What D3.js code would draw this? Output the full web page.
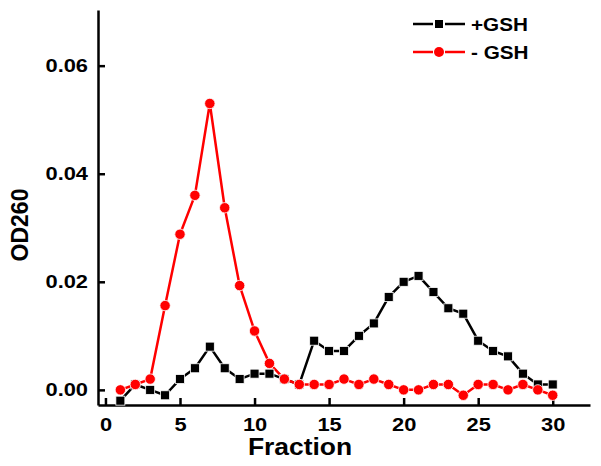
<!DOCTYPE html>
<html>
<head>
<meta charset="utf-8">
<script src="https://cdn.jsdelivr.net/npm/d3@7"></script>
<style>
  html, body { margin: 0; padding: 0; background: #fff; }
  svg { display: block; }
  text { font-family: "Liberation Sans", Arial, sans-serif; font-weight: bold; }
</style>
</head>
<body>
<svg id="chart" width="601" height="466"></svg>
<script>
const fractions = d3.range(1, 31);
const plusGSH = [-0.002, 0.001, 0.0, -0.001, 0.002, 0.004, 0.008, 0.004, 0.002, 0.003,
                 0.003, 0.002, 0.001, 0.0091, 0.0072, 0.0072, 0.010, 0.0123, 0.0172, 0.020,
                 0.0211, 0.0181, 0.0151, 0.0141, 0.0091, 0.0072, 0.0062, 0.003, 0.001, 0.001];
const minusGSH = [0.0, 0.001, 0.002, 0.0156, 0.0288, 0.036, 0.053, 0.0337, 0.0193, 0.0109,
                  0.0049, 0.002, 0.001, 0.001, 0.001, 0.002, 0.001, 0.002, 0.001, 0.0,
                  0.0, 0.001, 0.001, -0.001, 0.001, 0.001, 0.0, 0.001, 0.0, -0.001];
const xTicks = [0, 5, 10, 15, 20, 25, 30];
const yTicks = [0.00, 0.02, 0.04, 0.06];
const seriesNames = ["+GSH", "- GSH"];
const seriesColors = ["#000000", "#ff0000"];

const svg = d3.select("#chart");
const x = d3.scaleLinear().domain([-0.5, 32.5]).range([98, 590]);
const y = d3.scaleLinear().domain([-0.0028, 0.0703]).range([405, 10]);
const sx = 1.15;

// axes
const xAxis = svg.append("g").attr("transform", `translate(0,${y.range()[0]})`)
  .call(d3.axisBottom(x).tickValues(xTicks).tickSizeInner(-7).tickSizeOuter(0).tickPadding(13).tickFormat(d3.format("d")));
const yAxis = svg.append("g").attr("transform", `translate(${x.range()[0]},0)`)
  .call(d3.axisLeft(y).tickValues(yTicks).tickSizeInner(-7).tickSizeOuter(0).tickPadding(10).tickFormat(d3.format(".2f")));
[xAxis, yAxis].forEach(g => {
  g.select(".domain").attr("stroke", "#000").attr("stroke-width", 2.5);
  g.selectAll(".tick line").attr("stroke", "#000").attr("stroke-width", 2.5);
  g.selectAll(".tick text").attr("fill", "#000").attr("font-size", 19);
});
// stretch labels horizontally to mimic reference
xAxis.selectAll(".tick text").each(function() {
  const t = d3.select(this);
  t.attr("transform", `scale(${sx},1)`);
});
yAxis.selectAll(".tick text").each(function() {
  const t = d3.select(this);
  const xx = +t.attr("x");
  t.attr("transform", `translate(${xx},0) scale(${sx},1)`).attr("x", 0);
});

// axis titles
svg.append("text").attr("transform", `translate(300,455) scale(${sx},1)`)
  .attr("text-anchor", "middle").attr("font-size", 23).text("Fraction");
svg.append("text").attr("transform", `translate(28,225) rotate(-90)`)
  .attr("text-anchor", "middle").attr("font-size", 23).text("OD260");

// lines
const line = d3.line().x((d, i) => x(fractions[i])).y(d => y(d));
[plusGSH, minusGSH].forEach((s, k) => {
  svg.append("path").datum(s).attr("d", line)
    .attr("fill", "none").attr("stroke", seriesColors[k]).attr("stroke-width", 2.5)
    .attr("stroke-linejoin", "round");
});
// markers
svg.append("g").selectAll("rect").data(plusGSH).join("rect")
  .attr("x", (d, i) => x(fractions[i]) - 4.5).attr("y", d => y(d) - 4.5)
  .attr("width", 9).attr("height", 9).attr("fill", "#000").attr("stroke", "#fff").attr("stroke-width", 0.8);
svg.append("g").selectAll("circle").data(minusGSH).join("circle")
  .attr("cx", (d, i) => x(fractions[i])).attr("cy", d => y(d)).attr("r", 5.2)
  .attr("fill", seriesColors[1]).attr("stroke", "#fff").attr("stroke-width", 0.8);

// legend
const leg = svg.append("g");
seriesNames.forEach((name, k) => {
  const ly = 24 + k * 28;
  leg.append("line").attr("x1", 413).attr("x2", 433).attr("y1", ly).attr("y2", ly)
    .attr("stroke", seriesColors[k]).attr("stroke-width", 2.5);
  leg.append("line").attr("x1", 445).attr("x2", 465).attr("y1", ly).attr("y2", ly)
    .attr("stroke", seriesColors[k]).attr("stroke-width", 2.5);
  if (k === 0) {
    leg.append("rect").attr("x", 435).attr("y", ly - 4).attr("width", 8).attr("height", 8).attr("fill", "#000");
  } else {
    leg.append("circle").attr("cx", 439).attr("cy", ly).attr("r", 5).attr("fill", seriesColors[1]);
  }
  leg.append("text").attr("transform", `translate(471,${ly + 7}) scale(${sx},1)`)
    .attr("font-size", 18).text(name);
});
</script>
</body>
</html>
